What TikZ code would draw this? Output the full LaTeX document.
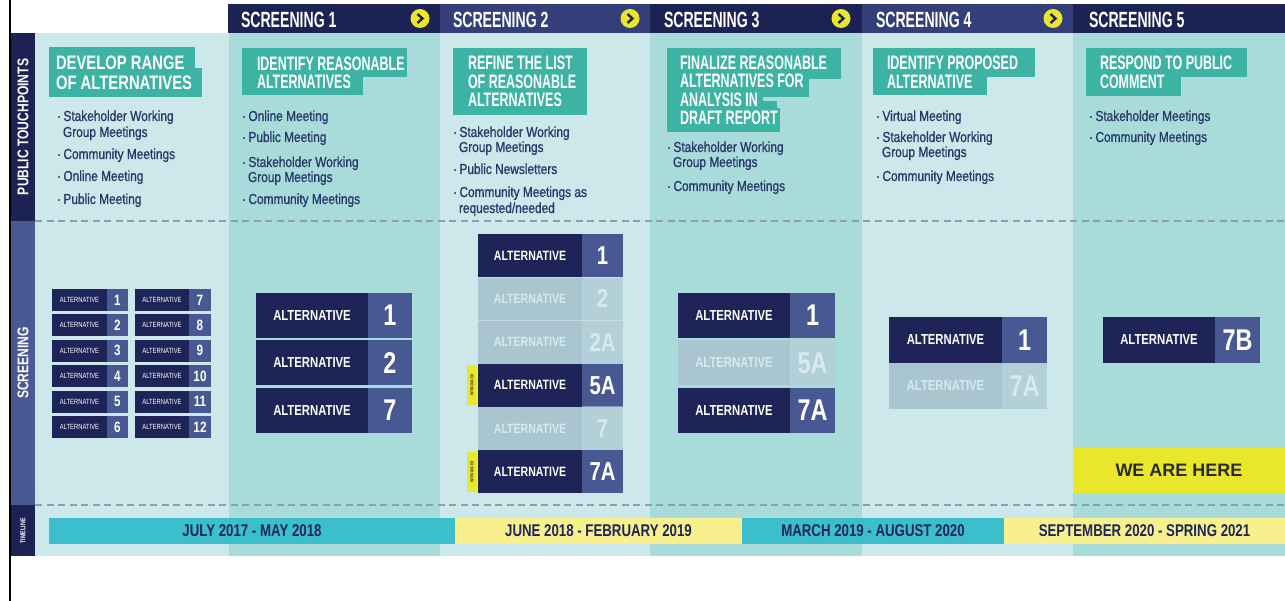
\documentclass[tikz,border=0pt]{standalone}
\usepackage{fontspec}
\setmainfont{Liberation Sans}
\newfontfamily\headfont{Liberation Sans}[FakeStretch=0.64]
\newfontfamily\widefont{Liberation Sans}[FakeStretch=0.76]
\newfontfamily\altfont{Liberation Sans}[FakeStretch=0.78]
\newfontfamily\bodyfont{Liberation Sans}[FakeStretch=0.82,FakeBold=0.9]
\newcommand\setfs[1]{\fontsize{#1}{#1}\selectfont}

\definecolor{navy}{HTML}{1D2255}
\definecolor{navyB}{HTML}{343F7A}
\definecolor{sidemid}{HTML}{4A5994}
\definecolor{colA}{HTML}{CCE8EA}
\definecolor{colB}{HTML}{A9DBDA}
\definecolor{headteal}{HTML}{3DB3A4}
\definecolor{bodytxt}{HTML}{27386B}
\definecolor{dashc}{HTML}{8AA0B2}
\definecolor{altdark}{HTML}{1E2358}
\definecolor{altnumc}{HTML}{485892}
\definecolor{fadel}{HTML}{A9C6D0}
\definecolor{faden}{HTML}{B3CFD8}
\definecolor{fadetxt}{HTML}{D6E9ED}
\definecolor{hiyellow}{HTML}{E9E62B}
\definecolor{tlteal}{HTML}{3BBFCC}
\definecolor{tlyellow}{HTML}{F7F08C}
\definecolor{tltext}{HTML}{1D2659}
\definecolor{herec}{HTML}{2B2B2B}

\tikzset{
  every node/.style={inner sep=0pt, outer sep=0pt},
  hdrtxt/.style={anchor=base west, text=white, font=\headfont\bfseries\setfs{22}},
  headtxt/.style={anchor=base west, text=white, font=\headfont\bfseries\setfs{19.5}},
  widetxt/.style={anchor=base west, text=white, font=\widefont\bfseries\setfs{19.5}},
  headbox/.style={fill=headteal},
  item/.style={anchor=base west, text=bodytxt, font=\bodyfont\setfs{14.5}},
  sidetxt/.style={rotate=90, text=white, font=\altfont\bfseries\setfs{15.5}},
  gonext/.style={circle, fill=hiyellow, minimum size=19pt},
  chev/.style={draw=navy, line width=2.4pt, line join=miter},
  dashline/.style={draw=dashc, line width=1.2pt, dash pattern=on 7pt off 4.5pt},
  altL/.style={anchor=north west, font=\altfont\labfont},
  altN/.style={font=\altfont\bfseries\numfont},
  dkL/.style={fill=altdark, text=white},
  dkN/.style={fill=altnumc, text=white},
  ftL/.style={fill=fadel, text=fadetxt},
  ftN/.style={fill=faden, text=fadetxt},
  tbar/.style={anchor=north west, minimum height=26pt, text=tltext, font=\altfont\bfseries\setfs{17}},
  tag/.style={fill=hiyellow, rotate=90, minimum width=40pt, minimum height=10pt, text=herec, font=\altfont\bfseries\setfs{4}},
}

% one alternative row: name, x, y, label width, number width, height, number, state
\newcommand\altrow[8]{%
  \node[altL, #8L, minimum width=#4pt, minimum height=#6pt] (#1) at (#2,#3) {ALTERNATIVE};
  \node[altN, #8N, minimum width=#5pt, minimum height=#6pt, anchor=north west] (#1n) at (#1.north east) {#7};}

\begin{document}
\begin{tikzpicture}[x=1pt,y=-1pt]
\useasboundingbox (0,0) rectangle (1285,601);
\fill[white] (0,0) rectangle (1285,601);

% column backgrounds
\fill[colA] (35,33) rectangle (229,556);
\fill[colB] (229,33) rectangle (440,556);
\fill[colA] (440,33) rectangle (650,556);
\fill[colB] (650,33) rectangle (862,556);
\fill[colA] (862,33) rectangle (1073,556);
\fill[colB] (1073,33) rectangle (1285,556);

% header strip
\fill[navy]  (228,4) rectangle (440,33);
\fill[navyB] (440,4) rectangle (650,33);
\fill[navy]  (650,4) rectangle (862,33);
\fill[navyB] (862,4) rectangle (1073,33);
\fill[navy]  (1073,4) rectangle (1285,33);
\node[hdrtxt] (h1) at (241,27.5) {SCREENING 1};
\node[hdrtxt] (h2) at (453,27.5) {SCREENING 2};
\node[hdrtxt] (h3) at (664,27.5) {SCREENING 3};
\node[hdrtxt] (h4) at (876,27.5) {SCREENING 4};
\node[hdrtxt] (h5) at (1089,27.5) {SCREENING 5};
\foreach \n/\x in {g1/420, g2/630, g3/841, g4/1053}{
  \node[gonext] (\n) at (\x,18.5) {};
  \draw[chev] ([xshift=-2.5pt,yshift=4.5pt]\n.center) -- ([xshift=2.5pt]\n.center) -- ([xshift=-2.5pt,yshift=-4.5pt]\n.center);
}

% side labels
\fill[navy] (11,33) rectangle (35,221);
\fill[sidemid] (11,221) rectangle (35,505);
\fill[navy] (11,505) rectangle (35,556);
\node[sidetxt] (sidePT) at (23,127) {PUBLIC TOUCHPOINTS};
\node[sidetxt] (sideSC) at (23,363) {SCREENING};
\node[sidetxt, font=\altfont\bfseries\setfs{7}] (sideTL) at (23,531) {TIMELINE};
\draw[black, line width=2pt] (10,0) -- (10,601);

% row separators
\draw[dashline] (35,221) -- (1285,221);
\draw[dashline] (35,505) -- (1285,505);

% step headings
\fill[headbox] (49,47) rectangle (195,68);
\fill[headbox] (49,68) rectangle (202,97);
\node[widetxt] (t0a) at (56,69.5) {DEVELOP RANGE};
\node[widetxt] (t0b) at (56,90) {OF ALTERNATIVES};

\fill[headbox] (242,48) rectangle (407,77);
\fill[headbox] (242,77) rectangle (363,95);
\node[headtxt] (t1a) at (257,71) {IDENTIFY REASONABLE};
\node[headtxt] (t1b) at (257,88.5) {ALTERNATIVES};

\fill[headbox] (453,48) rectangle (587,115);
\node[headtxt] (t2a) at (468,70) {REFINE THE LIST};
\node[headtxt] (t2b) at (468,89) {OF REASONABLE};
\node[headtxt] (t2c) at (468,107) {ALTERNATIVES};

\fill[headbox] (667,48) rectangle (841,79);
\fill[headbox] (667,79) rectangle (809,97);
\fill[headbox] (667,97) rectangle (763,108);
\fill[headbox] (760,101) rectangle (777,108);
\fill[headbox] (667,108) rectangle (780,132);
\node[headtxt] (t3a) at (680,70) {FINALIZE REASONABLE};
\node[headtxt] (t3b) at (680,88) {ALTERNATIVES FOR};
\node[headtxt] (t3c) at (680,107) {ANALYSIS IN};
\node[headtxt] (t3d) at (680,125) {DRAFT REPORT};

\fill[headbox] (873,48) rectangle (1035,77);
\fill[headbox] (873,77) rectangle (987,95);
\node[headtxt] (t4a) at (887,70) {IDENTIFY PROPOSED};
\node[headtxt] (t4b) at (887,88.5) {ALTERNATIVE};

\fill[headbox] (1086,48) rectangle (1247,77);
\fill[headbox] (1086,77) rectangle (1181,96);
\node[headtxt] (t5a) at (1100,70) {RESPOND TO PUBLIC};
\node[headtxt] (t5b) at (1100,88.5) {COMMENT};

% touchpoint lists
\node[item] (c0i1) at (57,121) {·\hspace{2.5pt}Stakeholder Working};
\node[item] (c0i1b) at (63,137) {Group Meetings};
\node[item] (c0i2) at (57,159) {·\hspace{2.5pt}Community Meetings};
\node[item] (c0i3) at (57,181) {·\hspace{2.5pt}Online Meeting};
\node[item] (c0i4) at (57,204) {·\hspace{2.5pt}Public Meeting};

\node[item] (c1i1) at (242,121) {·\hspace{2.5pt}Online Meeting};
\node[item] (c1i2) at (242,142) {·\hspace{2.5pt}Public Meeting};
\node[item] (c1i3) at (242,167) {·\hspace{2.5pt}Stakeholder Working};
\node[item] (c1i3b) at (248,182) {Group Meetings};
\node[item] (c1i4) at (242,204) {·\hspace{2.5pt}Community Meetings};

\node[item] (c2i1) at (453,137) {·\hspace{2.5pt}Stakeholder Working};
\node[item] (c2i1b) at (459,152) {Group Meetings};
\node[item] (c2i2) at (453,174) {·\hspace{2.5pt}Public Newsletters};
\node[item] (c2i3) at (453,197) {·\hspace{2.5pt}Community Meetings as};
\node[item] (c2i3b) at (459,213) {requested/needed};

\node[item] (c3i1) at (667,152) {·\hspace{2.5pt}Stakeholder Working};
\node[item] (c3i1b) at (673,167) {Group Meetings};
\node[item] (c3i2) at (667,191) {·\hspace{2.5pt}Community Meetings};

\node[item] (c4i1) at (876,121) {·\hspace{2.5pt}Virtual Meeting};
\node[item] (c4i2) at (876,142) {·\hspace{2.5pt}Stakeholder Working};
\node[item] (c4i2b) at (882,157) {Group Meetings};
\node[item] (c4i3) at (876,181) {·\hspace{2.5pt}Community Meetings};

\node[item] (c5i1) at (1089,121) {·\hspace{2.5pt}Stakeholder Meetings};
\node[item] (c5i2) at (1089,142) {·\hspace{2.5pt}Community Meetings};

% initial range of alternatives
\begin{scope}
\def\labfont{\setfs{7.5}}\def\numfont{\setfs{15}}
\foreach \i [evaluate=\i as \yy using 289+25.4*(\i-1), evaluate=\i as \j using int(\i+6)] in {1,...,6}{
  \altrow{r\i}{52}{\yy}{55}{21}{22}{\i}{dk}
  \altrow{r\j}{135}{\yy}{54}{22}{22}{\j}{dk}
}
\end{scope}

% screening 1
\begin{scope}
\def\labfont{\bfseries\setfs{14.5}}\def\numfont{\setfs{30}}
\altrow{sa1}{256}{293}{112}{44}{45}{1}{dk}
\altrow{sa2}{256}{340.5}{112}{44}{45}{2}{dk}
\altrow{sa7}{256}{388}{112}{44}{45}{7}{dk}
\end{scope}

% screening 2
\begin{scope}
\def\labfont{\bfseries\setfs{13.5}}\def\numfont{\setfs{26}}
\altrow{sb1}{478}{234}{104}{41}{43.2}{1}{dk}
\altrow{sb2}{478}{277.2}{104}{41}{43.2}{2}{ft}
\altrow{sb2a}{478}{320.4}{104}{41}{43.2}{2A}{ft}
\altrow{sb5a}{478}{363.6}{104}{41}{43.2}{5A}{dk}
\altrow{sb7}{478}{406.8}{104}{41}{43.2}{7}{ft}
\altrow{sb7a}{478}{450}{104}{41}{43.2}{7A}{dk}
\draw[white, opacity=0.35, line width=0.8pt] (sb2.north west) -- (sb2n.north east)
  (sb2a.north west) -- (sb2an.north east) (sb5an.south west) -- (sb5an.south east);
\end{scope}
\node[tag] (new5a) at (472,385) {INTRODUCED};
\node[tag] (new7a) at (472,472) {INTRODUCED};

% screening 3
\begin{scope}
\def\labfont{\bfseries\setfs{14.5}}\def\numfont{\setfs{30}}
\altrow{sc1}{678}{293}{112}{45}{45}{1}{dk}
\altrow{sc5a}{678}{340.5}{112}{45}{45}{5A}{ft}
\altrow{sc7a}{678}{388}{112}{45}{45}{7A}{dk}
\end{scope}

% screening 4
\begin{scope}
\def\labfont{\bfseries\setfs{14.5}}\def\numfont{\setfs{30}}
\altrow{sd1}{889}{317}{113}{45}{46}{1}{dk}
\altrow{sd7a}{889}{363}{113}{45}{46}{7A}{ft}
\end{scope}

% screening 5
\begin{scope}
\def\labfont{\bfseries\setfs{14.5}}\def\numfont{\setfs{30}}
\altrow{se7b}{1103}{317}{112}{45}{46}{7B}{dk}
\end{scope}
\node[fill=hiyellow, anchor=north west, minimum width=212pt, minimum height=45pt,
  text=herec, font=\bfseries\setfs{18}] (here) at (1073,448) {WE ARE HERE};

% timeline
\node[tbar, fill=tlteal, minimum width=406pt] (tl1) at (49,518) {JULY 2017 - MAY 2018};
\node[tbar, fill=tlyellow, minimum width=287pt] (tl2) at (tl1.north east) {JUNE 2018 - FEBRUARY 2019};
\node[tbar, fill=tlteal, minimum width=262pt] (tl3) at (tl2.north east) {MARCH 2019 - AUGUST 2020};
\node[tbar, fill=tlyellow, minimum width=281pt] (tl4) at (tl3.north east) {SEPTEMBER 2020 - SPRING 2021};
\end{tikzpicture}
\end{document}
